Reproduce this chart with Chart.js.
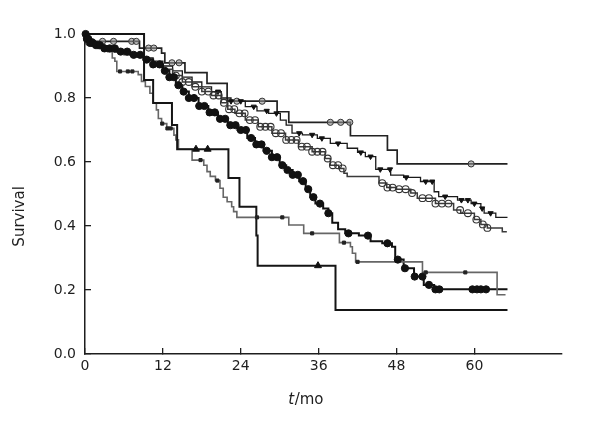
<!DOCTYPE html>
<html><head><meta charset="utf-8">
<script src="https://cdn.jsdelivr.net/npm/chart.js@4/dist/chart.umd.min.js"></script>
<style>html,body{margin:0;padding:0;background:#fff}</style>
</head><body>
<canvas id="c" width="600" height="430"></canvas>
<script>
// ---- tick labels / titles ----
const xTickValues = [0, 12, 24, 36, 48, 60];
const yTickValues = [0, 0.2, 0.4, 0.6, 0.8, 1.0];
const yTitle = 'Survival';
const xTitleItalic = 't';
const xTitleRest = '/mo';

// ---- curve A (circle-with-bar markers, top) ----
const timesA = [0, 0.3, 0.8, 8.4, 11.8, 12.3, 15.4, 18.8, 21.9, 29.6, 31.4, 40.9, 46.6, 48.1, 65.1];
const survA  = [1.0, 0.988, 0.977, 0.956, 0.94, 0.91, 0.879, 0.846, 0.79, 0.757, 0.724, 0.682, 0.637, 0.594, 0.594];
const censA  = [2.7, 4.4, 7.2, 7.9, 9.8, 10.6, 13.4, 14.5, 23.4, 27.3, 37.8, 39.4, 40.8, 59.5];

// ---- curve B (inverted triangles) ----
const timesB = [0, 0.2, 0.6, 1.2, 2, 3, 4.5, 6, 7.5, 9, 10.5, 12, 13.5, 15, 16.5, 18, 19.5, 21, 22.5, 24.7, 26.5, 28.3, 30.1, 31, 31.9, 33.5, 35.8, 37.8, 40.4, 42, 43.2, 44.8, 47.1, 49.1, 51.7, 53.8, 54.5, 57.4, 59.5, 61, 61.5, 63.3, 65.1];
const survB  = [1, 0.985, 0.975, 0.965, 0.958, 0.952, 0.945, 0.94, 0.933, 0.925, 0.915, 0.9, 0.885, 0.865, 0.85, 0.835, 0.82, 0.8, 0.79, 0.773, 0.76, 0.752, 0.731, 0.715, 0.69, 0.685, 0.674, 0.658, 0.643, 0.63, 0.617, 0.577, 0.559, 0.552, 0.539, 0.507, 0.492, 0.481, 0.47, 0.455, 0.44, 0.427, 0.427];
const censB  = [20.5, 22.5, 24, 26, 28, 29.5, 33, 35, 36.5, 39, 42.5, 44, 45.5, 47, 49.5, 52.5, 53.5, 55.5, 58, 59, 60, 61.2, 62.5];

// ---- curve C (open circles) ----
const timesC = [0, 0.2, 0.6, 1.2, 2, 3, 4.5, 6, 7.5, 9, 10.5, 12, 13.5, 15, 16.5, 18, 19.5, 21, 22, 23.1, 24.7, 26.7, 28.8, 30.9, 32.9, 35, 37, 37.8, 39.1, 39.9, 40.4, 45.3, 46.5, 48, 50.2, 51.2, 54, 56.8, 57.9, 60, 61, 62, 64.3, 65];
const survC  = [1, 0.985, 0.975, 0.965, 0.957, 0.95, 0.944, 0.935, 0.928, 0.918, 0.905, 0.89, 0.87, 0.85, 0.835, 0.82, 0.808, 0.785, 0.765, 0.752, 0.731, 0.71, 0.69, 0.669, 0.648, 0.632, 0.611, 0.59, 0.58, 0.565, 0.555, 0.534, 0.52, 0.515, 0.503, 0.487, 0.47, 0.45, 0.44, 0.42, 0.405, 0.394, 0.382, 0.382];
const censC  = [0.3, 0.6, 1, 14, 15, 16, 17, 18, 19, 19.8, 20.6, 21.4, 22.2, 23, 23.8, 24.6, 25.4, 26.2, 27, 27.8, 28.6, 29.4, 30.2, 31, 31.8, 32.6, 33.4, 34.2, 35, 35.8, 36.6, 37.4, 38.2, 39, 39.7, 45.8, 46.6, 47.4, 48.4, 49.4, 50.4, 52, 53, 54, 55, 56, 57.8, 59, 60.3, 61.3, 62];

// ---- curve D (filled circles) ----
const timesD = [0, 0.3, 0.8, 1.5, 3, 5, 7, 9, 10.5, 12, 13, 14, 15, 16, 17.5, 19, 20.5, 22, 23.5, 25, 26.2, 27.5, 28.8, 30, 31, 32, 33, 34, 34.7, 35.5, 36.7, 37.5, 38.1, 39, 40.1, 42.2, 44, 45.8, 47.3, 47.8, 49.1, 50.7, 52.2, 53.8, 65.1];
const survD  = [1, 0.985, 0.972, 0.965, 0.955, 0.945, 0.935, 0.92, 0.905, 0.885, 0.865, 0.84, 0.82, 0.8, 0.775, 0.755, 0.735, 0.715, 0.7, 0.675, 0.655, 0.635, 0.615, 0.59, 0.575, 0.56, 0.54, 0.515, 0.49, 0.47, 0.455, 0.44, 0.41, 0.39, 0.377, 0.37, 0.352, 0.346, 0.335, 0.295, 0.268, 0.242, 0.216, 0.202, 0.202];
const censD  = [0.1, 0.3, 0.5, 0.8, 1.2, 1.7, 2.3, 3, 3.8, 4.6, 5.5, 6.5, 7.5, 8.5, 9.5, 10.5, 11.5, 12.3, 13, 13.7, 14.4, 15.2, 16, 16.8, 17.6, 18.4, 19.2, 20, 20.8, 21.6, 22.4, 23.2, 24, 24.8, 25.6, 26.4, 27.2, 28, 28.8, 29.6, 30.4, 31.2, 32, 32.8, 33.6, 34.4, 35.2, 36.2, 37.5, 40.6, 43.6, 46.6, 48.2, 49.3, 50.8, 52, 53, 54, 54.6, 59.7, 60.4, 61, 61.8];

// ---- curve E (small squares, grey line) ----
const timesE = [0, 0.3, 1, 2, 3.5, 4.2, 4.6, 4.9, 8.2, 8.7, 9.3, 10, 10.5, 11, 11.3, 11.8, 12.6, 13.7, 14, 14.4, 16.5, 18.3, 18.8, 19.3, 20.1, 20.8, 21.3, 21.9, 22.6, 22.9, 23.4, 31.4, 33.7, 39.2, 40.9, 41.2, 41.7, 52, 63.5, 64.8];
const survE  = [1, 0.98, 0.965, 0.955, 0.945, 0.925, 0.915, 0.883, 0.873, 0.852, 0.836, 0.815, 0.785, 0.763, 0.736, 0.72, 0.705, 0.684, 0.669, 0.64, 0.606, 0.59, 0.57, 0.555, 0.542, 0.518, 0.49, 0.476, 0.46, 0.445, 0.427, 0.403, 0.377, 0.348, 0.335, 0.315, 0.288, 0.255, 0.185, 0.185];
const censE  = [5.4, 6.6, 7.3, 11.9, 12.7, 13.2, 17.8, 20.4, 26.5, 30.4, 35.0, 39.9, 42.0, 52.5, 58.6];

// ---- curve F (triangles, bottom) ----
const timesF = [0, 9.1, 10.5, 13.4, 14.2, 22.1, 23.8, 26.4, 26.6, 38.6, 65.1];
const survF  = [1, 0.856, 0.784, 0.716, 0.64, 0.55, 0.46, 0.37, 0.276, 0.1375, 0.1375];
const censF  = [17.1, 18.9, 35.9];

const FONT = '"DejaVu Sans", Verdana, sans-serif';
const INK = '#1e1e1e';

function stepAt(times, surv, t) {
  let v = surv[0];
  for (let i = 0; i < times.length; i++) { if (times[i] <= t) v = surv[i]; else break; }
  return v;
}
function linePts(times, surv) { return times.map((t, i) => ({x: t, y: surv[i]})); }
function censPts(cens, times, surv) { return cens.map(t => ({x: t, y: stepAt(times, surv, t)})); }

function lineDs(times, surv, color, width) {
  return { data: linePts(times, surv), borderColor: color, borderWidth: width, stepped: true,
           pointRadius: 0, fill: false, clip: false, showLine: true };
}
function markDs(cens, times, surv, style, radius, bg, border, bw, rot) {
  return { data: censPts(cens, times, surv), showLine: false, clip: false,
           pointStyle: style, pointRadius: radius, pointBackgroundColor: bg,
           pointBorderColor: border, pointBorderWidth: bw, pointRotation: rot || 0 };
}

const datasets = [
  markDs(censF, timesF, survF, 'triangle', 4, '#111', '#111', 1),
  markDs(censE, timesE, survE, 'rect', 2.2, '#222', '#222', 1),
  markDs(censD, timesD, survD, 'circle', 3.6, '#111', '#111', 1),
  markDs(censC, timesC, survC, 'circle', 3.4, 'rgba(255,255,255,0)', '#333', 1.1),
  markDs(censB, timesB, survB, 'triangle', 3, '#111', '#111', 1, 180),
  markDs(censA, timesA, survA, 'circle', 3.1, 'rgba(150,150,150,0.6)', '#333', 1),
  lineDs(timesF, survF, '#151515', 2),
  lineDs(timesE, survE, '#666666', 1.6),
  lineDs(timesD, survD, '#111111', 2),
  lineDs(timesC, survC, '#3a3a3a', 1.5),
  lineDs(timesB, survB, '#1a1a1a', 1.3),
  lineDs(timesA, survA, '#222222', 1.7)
];

const titlePlugin = {
  id: 'titles',
  afterDraw(chart) {
    const ctx = chart.ctx;
    const xs = chart.scales.x, ys = chart.scales.y;
    ctx.save();
    ctx.fillStyle = INK;
    ctx.textBaseline = 'middle';
    // x title with italic t
    ctx.font = 'italic 15px ' + FONT;
    const w1 = ctx.measureText(xTitleItalic).width;
    ctx.font = '15px ' + FONT;
    const w2 = ctx.measureText(xTitleRest).width;
    const cx = xs.getPixelForValue(34);
    const ty = xs.bottom - 30;
    let x0 = cx - (w1 + w2) / 2;
    ctx.textAlign = 'left';
    ctx.font = 'italic 15px ' + FONT;
    ctx.fillText(xTitleItalic, x0, ty);
    ctx.font = '15px ' + FONT;
    ctx.fillText(xTitleRest, x0 + w1 + 0.5, ty);
    // y title
    ctx.translate(20, ys.getPixelForValue(0.43));
    ctx.rotate(-Math.PI / 2);
    ctx.textAlign = 'center';
    ctx.fillText(yTitle, 0, 0);
    ctx.restore();
  }
};

new Chart(document.getElementById('c'), {
  type: 'line',
  data: { datasets },
  options: {
    responsive: false, animation: false, devicePixelRatio: 1,
    layout: { padding: { top: 34, right: 38, left: 0, bottom: 0 } },
    plugins: { legend: { display: false }, tooltip: { enabled: false } },
    scales: {
      x: {
        type: 'linear', min: 0, max: 73.5,
        afterBuildTicks: s => { s.ticks = xTickValues.map(v => ({ value: v })); },
        afterFit: s => { s.height = 76; },
        ticks: { font: { family: FONT, size: 14 }, color: INK, padding: 10, maxRotation: 0, autoSkip: false,
                 callback: v => String(v) },
        grid: { drawOnChartArea: false, tickLength: -6, color: INK, lineWidth: 1.3 },
        border: { color: INK, width: 1.5 }
      },
      y: {
        min: 0, max: 1,
        afterBuildTicks: s => { s.ticks = yTickValues.map(v => ({ value: v })); },
        afterFit: s => { s.width = 85; },
        ticks: { font: { family: FONT, size: 14 }, color: INK, padding: 15, callback: v => Number(v).toFixed(1) },
        grid: { drawOnChartArea: false, tickLength: -6, color: INK, lineWidth: 1.3 },
        border: { color: INK, width: 1.5 }
      }
    }
  },
  plugins: [titlePlugin]
});
</script>
</body></html>
